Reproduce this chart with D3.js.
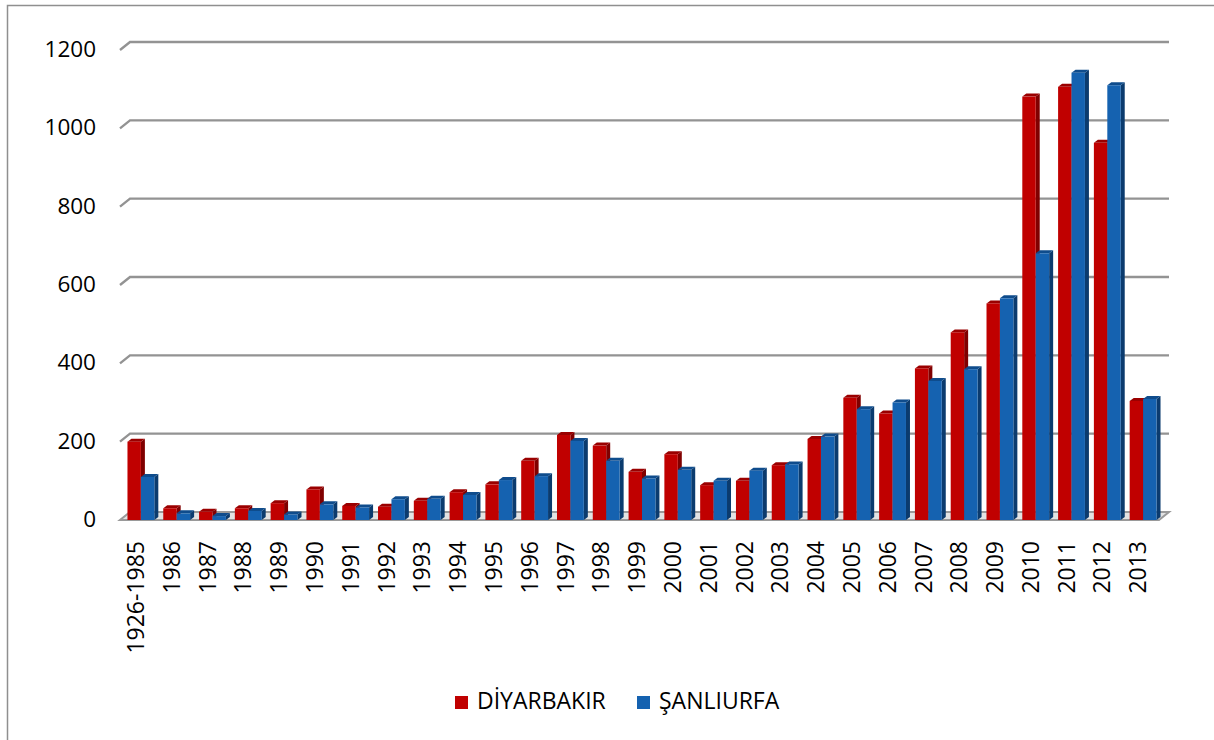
<!DOCTYPE html>
<html>
<head>
<meta charset="utf-8">
<script src="https://cdn.jsdelivr.net/npm/d3@7"></script>
<style>
body { margin: 0; background: #fff; }
text { font-family: "Open Sans", sans-serif; fill: #000; }
</style>
</head>
<body>
<script>
var w = 1214;
var h = 740;

var categories = ["1926-1985", "1986", "1987", "1988", "1989", "1990", "1991", "1992", "1993", "1994",
    "1995", "1996", "1997", "1998", "1999", "2000", "2001", "2002", "2003", "2004",
    "2005", "2006", "2007", "2008", "2009", "2010", "2011", "2012", "2013"];
var diyarbakir = [200, 30, 21, 30, 43, 78, 36, 34, 49, 71, 91, 151, 217, 190, 123, 168, 89, 100, 140, 207,
    312, 272, 387, 479, 553, 1081, 1106, 963, 304];
var sanliurfa = [110, 17, 10, 23, 14, 40, 32, 53, 54, 64, 102, 112, 202, 151, 106, 128, 100, 126, 142, 213,
    283, 300, 355, 385, 566, 681, 1142, 1110, 309];
var yTicks = [0, 200, 400, 600, 800, 1000, 1200];
var seriesNames = ["DİYARBAKIR", "ŞANLIURFA"];

var series = [
    { name: seriesNames[0], values: diyarbakir, front: "#c00000", top: "#9a0000", side: "#800000" },
    { name: seriesNames[1], values: sanliurfa, front: "#1562b0", top: "#0f4c8c", side: "#0b3b6e" }
];

// depth offset of the 3d look
var dx = 10, dy = 8;
var bdx = 4, bdy = 3;

var svg = d3.select("body").append("svg")
    .attr("width", w)
    .attr("height", h);

// chart border (top and left visible)
svg.append("path")
    .attr("d", "M7.5," + h + " V5.5 H" + w)
    .attr("fill", "none")
    .attr("stroke", "#8f8f8f")
    .attr("stroke-width", 1.5);

var xScale = d3.scaleBand()
    .domain(categories)
    .range([123, 1161])
    .paddingInner(0.25)
    .paddingOuter(0.125);

var yScale = d3.scaleLinear()
    .domain([0, 1200])
    .range([520, 50]);

var x0 = 120, x1 = 1159;

// floor
svg.append("polygon")
    .attr("points", [[x0, yScale(0)], [x1, yScale(0)], [x1 + dx, yScale(0) - dy], [x0 + dx, yScale(0) - dy]].join(" "))
    .attr("fill", "#e3e3e3")
    .attr("stroke", "#9a9a9a")
    .attr("stroke-width", 2);

// gridlines
var grid = svg.append("g");
grid.selectAll("path")
    .data(yTicks.filter(d => d > 0))
    .enter()
    .append("path")
    .attr("d", d => "M" + x0 + "," + yScale(d) + " L" + (x0 + dx) + "," + (yScale(d) - dy) + " H" + (x1 + dx))
    .attr("fill", "none")
    .attr("stroke", "#939393")
    .attr("stroke-width", 2.4);

// y labels
svg.append("g").selectAll("text")
    .data(yTicks)
    .enter()
    .append("text")
    .attr("x", 96)
    .attr("y", d => yScale(d) + 1)
    .attr("text-anchor", "end")
    .attr("dominant-baseline", "middle")
    .style("font-size", "22.5px")
    .text(d => d);

// bars
var bw = xScale.bandwidth() / 2;
var bars = svg.append("g");
categories.forEach(function(c, i) {
    series.forEach(function(s, j) {
        var x = xScale(c) + j * bw;
        var y = yScale(s.values[i]);
        var y0 = yScale(0);
        var g = bars.append("g");
        g.append("polygon")
            .attr("points", [[x + bw, y], [x + bw + bdx, y - bdy], [x + bw + bdx, y0 - bdy], [x + bw, y0]].join(" "))
            .attr("fill", s.side);
        g.append("polygon")
            .attr("points", [[x, y], [x + bdx, y - bdy], [x + bw + bdx, y - bdy], [x + bw, y]].join(" "))
            .attr("fill", s.top);
        g.append("rect")
            .attr("x", x)
            .attr("y", y)
            .attr("width", bw)
            .attr("height", y0 - y)
            .attr("fill", s.front);
    });
});

// x labels
svg.append("g").selectAll("text")
    .data(categories)
    .enter()
    .append("text")
    .attr("transform", d => "translate(" + (xScale(d) + xScale.bandwidth() / 2 - 3) + ",541) rotate(-90)")
    .attr("text-anchor", "end")
    .attr("dominant-baseline", "middle")
    .style("font-size", "23px")
    .text(d => d);

// legend
var legendX = [455, 637];
var legend = svg.append("g");
series.forEach(function(s, j) {
    legend.append("rect")
        .attr("x", legendX[j])
        .attr("y", 696)
        .attr("width", 13)
        .attr("height", 13)
        .attr("fill", s.front);
    legend.append("text")
        .attr("x", legendX[j] + 22)
        .attr("y", 703)
        .attr("dominant-baseline", "middle")
        .style("font-size", "23px")
        .text(s.name);
});
</script>
</body>
</html>
